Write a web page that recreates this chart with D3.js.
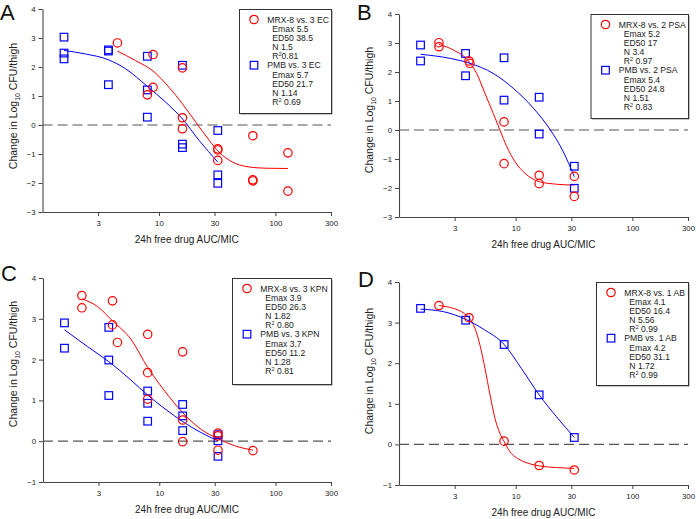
<!DOCTYPE html>
<html><head><meta charset="utf-8">
<script src="https://cdn.jsdelivr.net/npm/d3@7"></script>
<style>
body{margin:0;background:#fff}
svg{display:block}
text{font-family:"Liberation Sans",Arial,sans-serif;fill:#222}
</style>
</head><body>
<svg id="chart" width="696" height="519"></svg>
<script>
// ---------- data ----------
const xTickValues = [3, 10, 30, 100, 300];
const yTicksAB = [-3, -2, -1, 0, 1, 2, 3, 4];
const yTicksCD = [-1, 0, 1, 2, 3, 4];
const xLabel = "24h free drug AUC/MIC";

// Panel A
const A_MRX_POINTS = [[4.4,2.83],[8.9,2.43],[8.9,1.30],[7.95,1.04],[15.9,1.97],[15.9,0.25],[15.9,-0.13],[32,-0.82],[32,-0.86],[32,-1.22],[64,-0.37],[64,-1.89],[64,-1.93],[128,-0.96],[128,-2.28]];
const A_PMB_POINTS = [[1.53,3.03],[1.53,2.48],[1.53,2.28],[3.68,2.59],[3.68,2.55],[3.68,1.39],[7.95,2.37],[7.95,1.21],[7.95,0.27],[15.9,2.06],[15.9,-0.66],[15.9,-0.78],[32,-0.19],[32,-1.72],[32,-2.01]];
const A_MRX_FIT = [[4.4,2.55],[6.3,2.22],[8.9,1.86],[12.2,1.30],[15.9,0.73],[20.7,0.10],[27,-0.53],[32.9,-0.94],[42.9,-1.28],[55.8,-1.43],[83,-1.49],[128,-1.50]];
const A_PMB_FIT = [[1.53,2.57],[2.33,2.45],[3.68,2.25],[5.16,1.94],[7.95,1.33],[11.4,0.79],[15.9,0.21],[22.1,-0.53],[32,-1.28]];
const A_MRX_LEGEND = ["MRX-8 vs. 3 EC", "Emax 5.5", "ED50 38.5", "N 1.5", "0.81"];
const A_PMB_LEGEND = ["PMB vs. 3 EC", "Emax 5.7", "ED50 21.7", "N 1.14", " 0.69"];

// Panel B
const B_MRX_POINTS = [[2.2,3.01],[2.2,2.87],[3.98,2.38],[4.05,2.30],[7.95,0.28],[7.95,-1.16],[15.9,-1.56],[15.9,-1.85],[31.8,-1.60],[31.8,-2.29]];
const B_PMB_POINTS = [[1.53,2.93],[1.53,2.38],[3.72,2.64],[3.72,1.87],[7.95,2.49],[7.95,1.03],[15.9,1.13],[15.9,-0.14],[31.8,-1.25],[31.8,-2.01]];
const B_MRX_FIT = [[2.2,2.95],[2.92,2.76],[3.92,2.39],[4.63,1.95],[5.46,1.26],[6.43,0.57],[7.33,0],[8.38,-0.57],[9.86,-1.09],[12.0,-1.49],[15.9,-1.78],[22.4,-1.87],[31.8,-1.90]];
const B_PMB_FIT = [[1.53,2.61],[2.74,2.47],[4.06,2.30],[6.43,1.95],[9.53,1.44],[14.2,0.75],[19.7,0.02],[25.6,-0.75],[31.8,-1.61]];
const B_MRX_LEGEND = ["MRX-8 vs. 2 PSA", "Emax 5.2", "ED50 17", "N 3.4", " 0.97"];
const B_PMB_LEGEND = ["PMB vs. 2 PSA", "Emax 5.4", "ED50 24.8", "N 1.51", " 0.83"];

// Panel C
const C_MRX_POINTS = [[2.16,3.57],[2.16,3.27],[3.96,3.44],[3.96,2.85],[4.37,2.42],[7.95,2.62],[7.95,1.68],[7.95,1.03],[15.9,2.19],[15.9,0.52],[15.9,-0.01],[32,0.20],[32,0.13],[32,-0.22],[64,-0.23]];
const C_PMB_POINTS = [[1.53,2.90],[1.53,2.28],[3.68,2.79],[3.68,1.99],[3.68,1.12],[7.95,1.23],[7.95,0.93],[7.95,0.49],[15.9,0.90],[15.9,0.62],[15.9,0.26],[32,0.16],[32,0.01],[32,-0.37]];
const C_MRX_FIT = [[2.16,3.49],[2.94,3.30],[3.96,2.95],[5.70,2.50],[7.95,1.81],[11.0,1.25],[15.9,0.70],[22.9,0.29],[32,0.06],[44.3,-0.11],[64,-0.22]];
const C_PMB_FIT = [[1.53,2.73],[2.41,2.32],[3.68,1.95],[5.70,1.50],[7.95,1.13],[11.0,0.81],[15.9,0.48],[22.9,0.21],[32,0.01]];
const C_MRX_LEGEND = ["MRX-8 vs. 3 KPN", "Emax 3.9", "ED50 26.3", "N 1.82", " 0.80"];
const C_PMB_LEGEND = ["PMB vs. 3 KPN", "Emax 3.7", "ED50 11.2", "N 1.28", " 0.81"];

// Panel D
const D_MRX_POINTS = [[2.2,3.42],[3.98,3.12],[7.95,0.08],[15.9,-0.52],[31.8,-0.63]];
const D_PMB_POINTS = [[1.53,3.35],[3.73,3.06],[7.97,2.46],[15.9,1.22],[31.8,0.17]];
const D_MRX_FIT = [[2.2,3.42],[2.92,3.35],[3.56,3.24],[3.98,3.12],[4.48,2.86],[4.94,2.45],[5.46,1.87],[6.03,1.22],[6.65,0.64],[7.33,0.27],[7.94,0.08],[8.93,-0.18],[10.9,-0.38],[13.3,-0.48],[15.9,-0.53],[22.4,-0.57],[31.8,-0.59]];
const D_PMB_FIT = [[1.53,3.33],[2.40,3.27],[3.73,3.08],[5.28,2.84],[7.97,2.46],[11.2,1.87],[15.9,1.22],[22.4,0.68],[31.8,0.17]];
const D_MRX_LEGEND = ["MRX-8 vs. 1 AB", "Emax 4.1", "ED50 16.4", "N 5.56", " 0.99"];
const D_PMB_LEGEND = ["PMB vs. 1 AB", "Emax 4.2", "ED50 31.1", "N 1.72", " 0.99"];

const panelData = [
  {id:"A", mrx:A_MRX_POINTS, pmb:A_PMB_POINTS, mrxFit:A_MRX_FIT, pmbFit:A_PMB_FIT, mrxLeg:A_MRX_LEGEND, pmbLeg:A_PMB_LEGEND, yTicks:yTicksAB},
  {id:"B", mrx:B_MRX_POINTS, pmb:B_PMB_POINTS, mrxFit:B_MRX_FIT, pmbFit:B_PMB_FIT, mrxLeg:B_MRX_LEGEND, pmbLeg:B_PMB_LEGEND, yTicks:yTicksAB},
  {id:"C", mrx:C_MRX_POINTS, pmb:C_PMB_POINTS, mrxFit:C_MRX_FIT, pmbFit:C_PMB_FIT, mrxLeg:C_MRX_LEGEND, pmbLeg:C_PMB_LEGEND, yTicks:yTicksCD},
  {id:"D", mrx:D_MRX_POINTS, pmb:D_PMB_POINTS, mrxFit:D_MRX_FIT, pmbFit:D_PMB_FIT, mrxLeg:D_MRX_LEGEND, pmbLeg:D_PMB_LEGEND, yTicks:yTicksCD}
];

// ---------- layout ----------
const layout = [
  {left:42.5, right:331, top:9,   bottom:212, letterX:0,   letterY:19.5, yLabelY:106, legW:92,  legH:104},
  {left:399,  right:688, top:14,  bottom:217, letterX:357, letterY:19.5, yLabelY:110, legW:97.5,legH:104},
  {left:43,   right:331, top:278, bottom:482, letterX:1,   letterY:280.5,yLabelY:364, legW:99,  legH:106},
  {left:399,  right:688, top:282, bottom:485, letterX:358, letterY:287,  yLabelY:371, legW:92,  legH:103}
];

const RED = "#ff0000", BLUE = "#0000ff", AXIS = "#444";
const svg = d3.select("#chart");

panelData.forEach((p, i) => {
  const L = layout[i];
  const g = svg.append("g");
  const x = d3.scaleLog().domain([1, 300]).range([L.left, L.right]);
  const yExt = d3.extent(p.yTicks);
  const y = d3.scaleLinear().domain(yExt).range([L.bottom, L.top]);

  // panel letter
  g.append("text").attr("x", L.letterX).attr("y", L.letterY)
    .style("font-size", "22px").style("fill", "#111").text(p.id);

  // axes
  const xa = g.append("g").attr("transform", `translate(0,${L.bottom})`)
    .call(d3.axisBottom(x).tickValues(xTickValues).tickFormat(d3.format("d"))
      .tickSize(4).tickPadding(4).tickSizeOuter(0));
  const ya = g.append("g").attr("transform", `translate(${L.left},0)`)
    .call(d3.axisLeft(y).tickValues(p.yTicks).tickFormat(d3.format("d"))
      .tickSize(4).tickPadding(3).tickSizeOuter(0));
  [xa, ya].forEach(a => {
    a.select(".domain").attr("stroke", AXIS).attr("stroke-width", 1.1);
    a.selectAll(".tick line").attr("stroke", AXIS);
    a.selectAll(".tick text").style("font-size", "7.8px").style("fill", "#222")
      .style("font-family", '"Liberation Sans",Arial,sans-serif');
  });

  // zero dashed line
  g.append("line").attr("x1", L.left).attr("x2", L.right)
    .attr("y1", y(0)).attr("y2", y(0))
    .attr("stroke", "#555").attr("stroke-width", 1.2).attr("stroke-dasharray", "10,5");

  // axis labels
  g.append("text").attr("x", (L.left + L.right) / 2).attr("y", L.bottom + 31)
    .attr("text-anchor", "middle").style("font-size", "10px").text(xLabel);
  const yl = g.append("text")
    .attr("transform", `translate(${L.left - 26},${L.yLabelY}) rotate(-90)`)
    .attr("text-anchor", "middle").style("font-size", "10.5px");
  yl.append("tspan").text("Change in Log");
  yl.append("tspan").attr("dy", 3).style("font-size", "7px").text("10");
  yl.append("tspan").attr("dy", -3).text(" CFU/thigh");

  // fit lines
  const line = d3.line().x(d => x(d[0])).y(d => y(d[1])).curve(d3.curveMonotoneX);
  g.append("path").datum(p.mrxFit).attr("d", line).attr("fill", "none")
    .attr("stroke", RED).attr("stroke-width", 1);
  g.append("path").datum(p.pmbFit).attr("d", line).attr("fill", "none")
    .attr("stroke", BLUE).attr("stroke-width", 1);

  // points
  g.selectAll(".sq").data(p.pmb).enter().append("rect")
    .attr("x", d => x(d[0]) - 3.8).attr("y", d => y(d[1]) - 3.8)
    .attr("width", 7.6).attr("height", 7.6)
    .attr("fill", "none").attr("stroke", BLUE).attr("stroke-width", 1.2);
  g.selectAll(".ci").data(p.mrx).enter().append("circle")
    .attr("cx", d => x(d[0])).attr("cy", d => y(d[1])).attr("r", 4.2)
    .attr("fill", "none").attr("stroke", RED).attr("stroke-width", 1.2);

  // legend
  const lx = L.right - L.legW, ly = L.top;
  g.append("rect").attr("x", lx + 1.5).attr("y", ly + 1.5).attr("width", L.legW).attr("height", L.legH)
    .attr("fill", "#888");
  g.append("rect").attr("x", lx + 0.5).attr("y", ly + 0.5).attr("width", L.legW).attr("height", L.legH)
    .attr("fill", "#fff").attr("stroke", "#333").attr("stroke-width", 1);
  const groups = [{lines:p.mrxLeg, off:13.7, kind:"c"}, {lines:p.pmbLeg, off:59.4, kind:"s"}];
  groups.forEach(gr => {
    const by = ly + gr.off;
    if (gr.kind === "c") {
      g.append("circle").attr("cx", lx + 15).attr("cy", by - 3.2).attr("r", 4.2)
        .attr("fill", "none").attr("stroke", RED).attr("stroke-width", 1.2);
    } else {
      g.append("rect").attr("x", lx + 15 - 3.8).attr("y", by - 3.2 - 3.8).attr("width", 7.6).attr("height", 7.6)
        .attr("fill", "none").attr("stroke", BLUE).attr("stroke-width", 1.2);
    }
    gr.lines.forEach((t, k) => {
      const tx = g.append("text").attr("x", lx + (k === 0 ? 28.3 : 33.3)).attr("y", by + k * 9.1)
        .style("font-size", "8.6px");
      if (k === 4) {
        tx.append("tspan").text("R");
        tx.append("tspan").attr("dy", -3).style("font-size", "5.5px").text("2");
        tx.append("tspan").attr("dy", 3).text(t);
      } else {
        tx.text(t);
      }
    });
  });
});
</script>
</body></html>
